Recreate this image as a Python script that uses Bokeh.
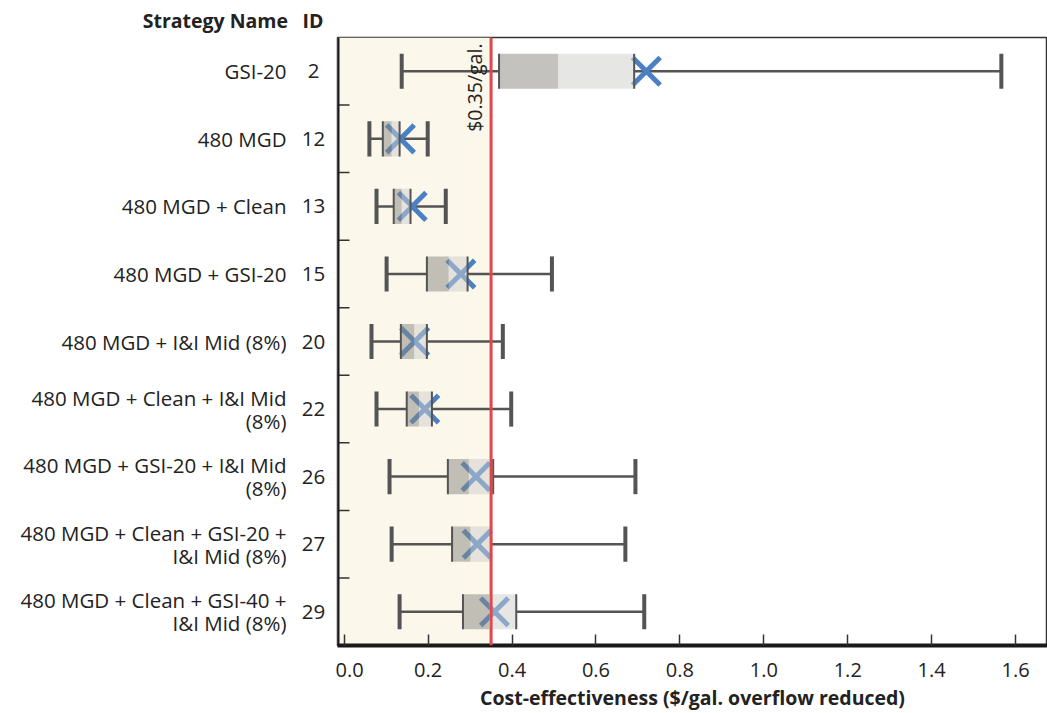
import math
from bokeh.plotting import figure
from bokeh.models import Range1d, FixedTicker, BoxAnnotation, Span, ColumnDataSource
from bokeh.layouts import row
from bokeh.core.properties import value
from bokeh.embed import file_html
from bokeh.resources import INLINE

names = ["GSI-20", "480 MGD", "480 MGD + Clean", "480 MGD + GSI-20",
         "480 MGD + I&I Mid (8%)", "480 MGD + Clean + I&I Mid\n(8%)",
         "480 MGD + GSI-20 + I&I Mid\n(8%)", "480 MGD + Clean + GSI-20 +\nI&I Mid (8%)",
         "480 MGD + Clean + GSI-40 +\nI&I Mid (8%)"]
ids = ["2", "12", "13", "15", "20", "22", "26", "27", "29"]
low = [0.137, 0.060, 0.077, 0.101, 0.065, 0.077, 0.108, 0.113, 0.132]
q1 = [0.369, 0.092, 0.118, 0.197, 0.135, 0.149, 0.247, 0.257, 0.283]
median = [0.510, 0.113, 0.137, 0.249, 0.167, 0.178, 0.297, 0.301, 0.345]
q3 = [0.691, 0.132, 0.158, 0.294, 0.197, 0.209, 0.355, 0.350, 0.410]
mean = [0.720, 0.134, 0.162, 0.278, 0.168, 0.192, 0.314, 0.317, 0.358]
high = [1.566, 0.199, 0.242, 0.495, 0.378, 0.398, 0.694, 0.670, 0.715]
threshold = 0.35
x_ticks = [0.0, 0.2, 0.4, 0.6, 0.8, 1.0, 1.2, 1.4, 1.6]
X_START, X_END = -0.016, 1.676

FONT = "Open Sans"
W, H = 1047, 713
LEFT_W = 335
TOP, BOTTOM = 36, 68
N = len(names)

ypos = [i + 0.5 for i in range(N)]
bounds = list(range(1, N))
BH = 0.52

src = ColumnDataSource(dict(y=ypos, low=low, q1=q1, med=median, q3=q3, mean=mean, high=high,
                            yb=[v - BH / 2 for v in ypos], yt=[v + BH / 2 for v in ypos]))

yr = Range1d(N, 0)
p = figure(width=W - LEFT_W, height=H, output_backend="svg", toolbar_location=None,
           x_range=Range1d(X_START, X_END), y_range=yr, y_axis_location=None,
           min_border_left=2, min_border_right=0, min_border_top=TOP, min_border_bottom=BOTTOM)
p.grid.visible = False
p.background_fill_color = "white"
p.outline_line_color = "#333333"
p.outline_line_width = 1.5

p.add_layout(BoxAnnotation(right=threshold, fill_color="#fbf7ea", fill_alpha=1.0, line_color=None, level="underlay"))

# row separators on the left edge (tick marks)
p.ray(x=[X_START] * len(bounds), y=bounds, length=12, length_units="screen", angle=0,
      line_color="#333333", line_width=1.5)

# whiskers
p.segment(x0="low", y0="y", x1="q1", y1="y", source=src, line_color="#545454", line_width=2.5)
p.segment(x0="q3", y0="y", x1="high", y1="y", source=src, line_color="#545454", line_width=2.5)
p.segment(x0="low", y0="yb", x1="low", y1="yt", source=src, line_color="#545454", line_width=4)
p.segment(x0="high", y0="yb", x1="high", y1="yt", source=src, line_color="#545454", line_width=4)

# mean marker (under the translucent box)
p.scatter(x="mean", y="y", source=src, marker="x", size=39, line_color="#4a80c4", line_width=5)

# boxes
p.hbar(y="y", left="q1", right="med", height=BH, source=src, fill_color="#878580", fill_alpha=0.5, line_color=None)
p.hbar(y="y", left="med", right="q3", height=BH, source=src, fill_color="#cdcdc9", fill_alpha=0.5, line_color=None)
p.segment(x0="q1", y0="yb", x1="q1", y1="yt", source=src, line_color="#545454", line_width=2)
p.segment(x0="q3", y0="yb", x1="q3", y1="yt", source=src, line_color="#545454", line_width=2)

p.add_layout(Span(location=threshold, dimension="height", line_color="#e0474c", line_width=3))
p.add_layout(Span(location=X_START, dimension="height", line_color="#1a1a1a", line_width=4))
p.text(x=[threshold], y=[0], text=["$0.35/gal."], angle=math.pi / 2, text_align="right",
       text_baseline="bottom", x_offset=-3, y_offset=6, text_font=value(FONT),
       text_font_size="19.5px", text_color="#222222")

xa = p.xaxis[0]
xa.ticker = FixedTicker(ticks=x_ticks)
xa.major_label_overrides = {t: f"{t:.1f}" for t in x_ticks}
xa.axis_line_width = 4
xa.axis_line_color = "#1a1a1a"
xa.major_tick_in = 11
xa.major_tick_out = 0
xa.major_tick_line_width = 1.5
xa.major_tick_line_color = "#333333"
xa.minor_tick_line_color = None
xa.major_label_text_font = FONT
xa.major_label_text_font_size = "20px"
xa.major_label_text_color = "#222222"
xa.major_label_standoff = 17
xa.axis_label = "Cost-effectiveness ($/gal. overflow reduced)"
xa.axis_label_text_font = FONT
xa.axis_label_text_font_size = "19.5px"
xa.axis_label_text_font_style = "bold"
xa.axis_label_text_color = "#222222"
xa.axis_label_standoff = 4

# label panel sharing the row scale
lp = figure(width=LEFT_W, height=H, output_backend="svg", toolbar_location=None,
            x_range=Range1d(0, LEFT_W), y_range=yr, x_axis_location=None, y_axis_location=None,
            min_border_left=0, min_border_right=0, min_border_top=TOP, min_border_bottom=BOTTOM,
            title="Strategy Name\u2002\u2005ID")
lp.grid.visible = False
lp.outline_line_color = None
lp.title.align = "right"
lp.title.offset = 12
lp.title.standoff = 8
lp.title.text_font = FONT
lp.title.text_font_size = "19.5px"
lp.title.text_font_style = "bold"
lp.title.text_color = "#222222"

one_y, one_t, l1_y, l1_t, l2_y, l2_t = [], [], [], [], [], []
for yv, nm in zip(ypos, names):
    parts = nm.split("\n")
    if len(parts) == 1:
        one_y.append(yv); one_t.append(parts[0])
    else:
        l1_y.append(yv); l1_t.append(parts[0])
        l2_y.append(yv); l2_t.append(parts[1])

kw = dict(text_font=value(FONT), text_font_size="20.5px", text_color="#222222", text_baseline="middle")
lp.text(x=[286] * len(one_y), y=one_y, text=one_t, text_align="right", **kw)
lp.text(x=[286] * len(l1_y), y=l1_y, text=l1_t, text_align="right", y_offset=-11.5, **kw)
lp.text(x=[286] * len(l2_y), y=l2_y, text=l2_t, text_align="right", y_offset=11.5, **kw)
lp.text(x=[313] * N, y=ypos, text=ids, text_align="center", **kw)

layout = row(lp, p)
open("out.html", "w").write(file_html(layout, INLINE))
